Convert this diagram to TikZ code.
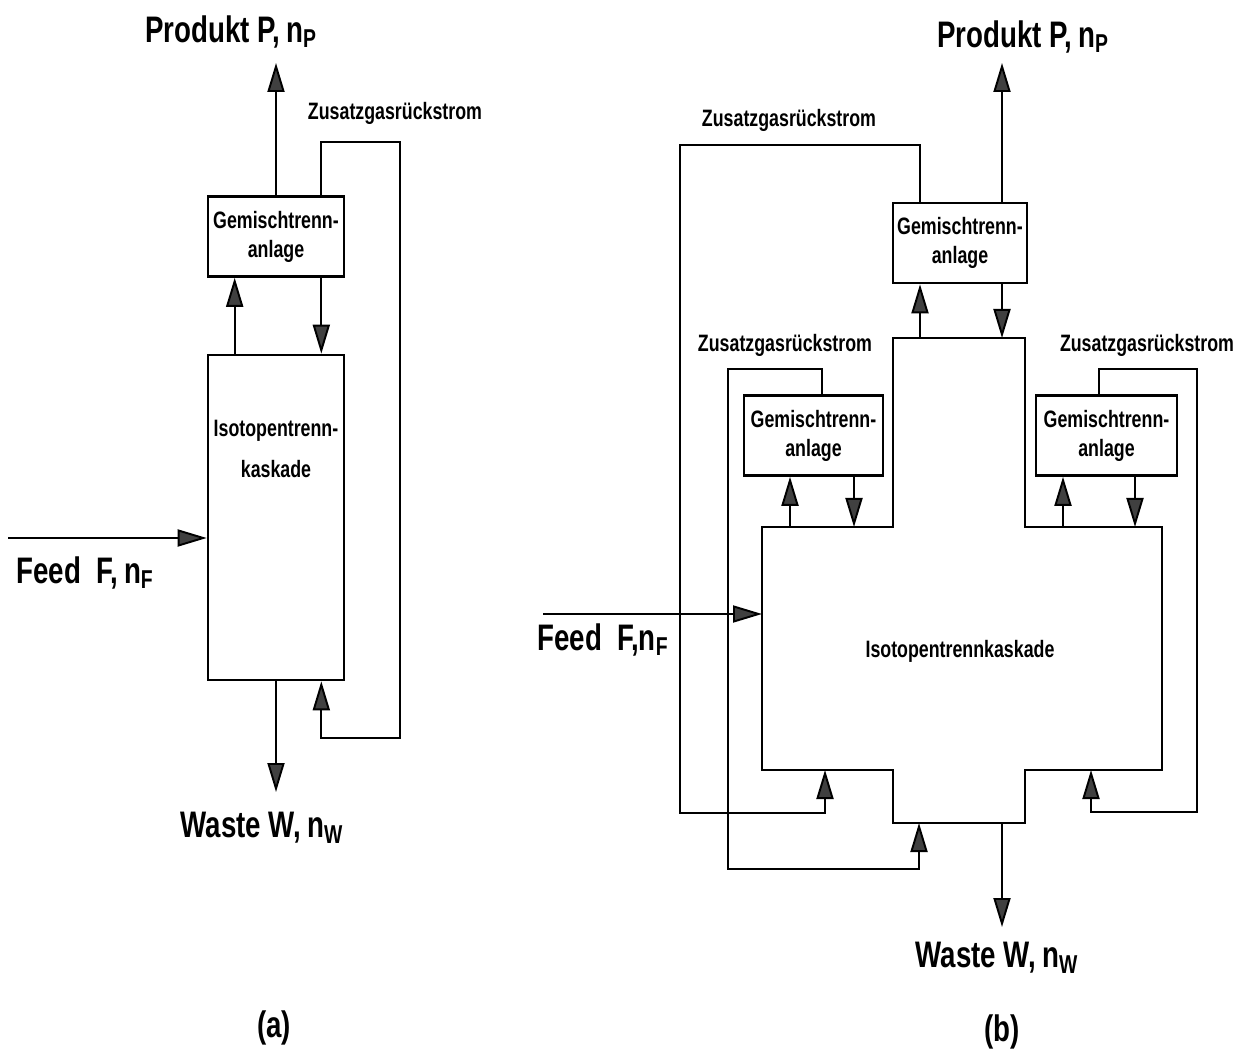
\documentclass[tikz,border=0pt]{standalone}
\usepackage{fontspec}
\newfontfamily\condfont[FakeStretch=0.75]{Liberation Sans}
\usepackage{tikz}
\usetikzlibrary{arrows.meta}
\tikzset{
  unitbox/.style={draw, line width=1.5pt, minimum width=2.72cm, minimum height=1.6cm, align=center, inner sep=1pt,
    font=\condfont\bfseries\fontsize{13.5}{16.5}\selectfont},
  flow/.style={line width=1.1pt, -{Triangle[length=0.58cm, width=0.34cm, fill=black!75]}},
  biglabel/.style={font=\condfont\bfseries\fontsize{21}{23}\selectfont},
  smalllabel/.style={font=\condfont\bfseries\fontsize{13.5}{16}\selectfont, align=center}
}

\begin{document}
\begin{tikzpicture}
  \fill[white] (0,0) rectangle (24.86,21.18);

  % (a) single cascade
  \node[unitbox] (gemA) at (5.52,16.45) {Gemischtrenn-\\anlage};
  \node[unitbox, minimum height=6.5cm] (cascA) at (5.52,10.83) {};
  \node[smalllabel, font=\condfont\bfseries\fontsize{13.5}{16.5}\selectfont] (cascAtxt) at (5.52,12.2) {Isotopentrenn-\\[7pt]kaskade};

  \node[biglabel] (prodA) at (4.62,20.54) {Produkt P,\,n\textsubscript{P}};
  \node[smalllabel] (retAlbl) at (7.9,18.92) {Zusatzgasrückstrom};
  \node[biglabel] (feedA) at (1.7,9.72) {Feed\ \ F,\,n\textsubscript{F}};
  \node[biglabel] (wasteA) at (5.24,4.62) {Waste W,\,n\textsubscript{W}};
  \node[biglabel] (capA) at (5.48,0.62) {(a)};

  \coordinate (prodAtip) at (5.52,19.92);
  \coordinate (wasteAtip) at (5.52,5.34);
  \coordinate (feedAstart) at (0.16,10.42);
  \coordinate (retAtop) at (8.0,18.34);
  \coordinate (retAbot) at (8.0,6.42);

  \draw[flow] (gemA.north) -- (prodAtip);
  \draw[flow] ([xshift=0.56cm]cascA.north west) -- ([xshift=0.56cm]gemA.south west);
  \draw[flow] ([xshift=-0.48cm]gemA.south east) -- ([xshift=-0.48cm]cascA.north east);
  \draw[flow] ([xshift=-0.48cm]gemA.north east) |- (retAtop) -- (retAbot) -| ([xshift=-0.48cm]cascA.south east);
  \draw[flow] (feedAstart) -- (feedAstart -| cascA.west);
  \draw[flow] (cascA.south) -- (wasteAtip);

  % (b) cascade with three separation units
  \node[unitbox, minimum width=2.68cm] (gemB) at (19.2,16.32) {Gemischtrenn-\\anlage};
  \node[unitbox, minimum width=2.78cm] (gemL) at (16.27,12.47) {Gemischtrenn-\\anlage};
  \node[unitbox, minimum width=2.82cm] (gemR) at (22.13,12.47) {Gemischtrenn-\\anlage};

  \draw[line width=1.5pt] (17.86,14.42) -- (20.5,14.42) -- (20.5,10.64) -- (23.24,10.64) -- (23.24,5.78)
    -- (20.5,5.78) -- (20.5,4.72) -- (17.86,4.72) -- (17.86,5.78) -- (15.24,5.78) -- (15.24,10.64)
    -- (17.86,10.64) -- cycle;

  \node[biglabel] (prodB) at (20.46,20.44) {Produkt P,\,n\textsubscript{P}};
  \node[smalllabel] (retBlbl) at (15.78,18.78) {Zusatzgasrückstrom};
  \node[smalllabel] (retLlbl) at (15.7,14.28) {Zusatzgasrückstrom};
  \node[smalllabel] (retRlbl) at (22.94,14.28) {Zusatzgasrückstrom};
  \node[biglabel] (feedB) at (12.06,8.38) {Feed\ \ F,n\textsubscript{F}};
  \node[smalllabel] (cascBtxt) at (19.2,8.16) {Isotopentrennkaskade};
  \node[biglabel] (wasteB) at (19.94,2.02) {Waste W,\,n\textsubscript{W}};
  \node[biglabel] (capB) at (20.04,0.54) {(b)};

  \coordinate (nk1) at (18.4,14.42);
  \coordinate (nk2) at (20.04,14.42);
  \coordinate (sL1) at (15.8,10.64);
  \coordinate (sL2) at (17.08,10.64);
  \coordinate (sR1) at (21.26,10.64);
  \coordinate (sR2) at (22.7,10.64);
  \coordinate (fL1) at (16.5,5.78);
  \coordinate (fR1) at (21.82,5.78);
  \coordinate (bn1) at (18.38,4.72);
  \coordinate (bn2) at (20.04,4.72);
  \coordinate (kL) at (15.24,8.9);
  \coordinate (feedBstart) at (10.86,8.9);
  \coordinate (prodBtip) at (20.04,19.92);
  \coordinate (wasteBtip) at (20.04,2.64);
  \coordinate (retBtl) at (13.6,18.28);
  \coordinate (retBbl) at (13.6,4.92);
  \coordinate (retLtl) at (14.56,13.8);
  \coordinate (retLbl) at (14.56,3.8);
  \coordinate (retRtr) at (23.94,13.8);
  \coordinate (retRbr) at (23.94,4.94);

  \draw[flow] (nk2 |- gemB.north) -- (prodBtip);
  \draw[flow] (nk1) -- (nk1 |- gemB.south);
  \draw[flow] (nk2 |- gemB.south) -- (nk2);
  \draw[flow] (sL1) -- (sL1 |- gemL.south);
  \draw[flow] (sL2 |- gemL.south) -- (sL2);
  \draw[flow] (sR1) -- (sR1 |- gemR.south);
  \draw[flow] (sR2 |- gemR.south) -- (sR2);
  \draw[flow] (nk1 |- gemB.north) |- (retBtl) -- (retBbl) -| (fL1);
  \draw[flow] ([xshift=0.17cm]gemL.north) |- (retLtl) -- (retLbl) -| (bn1);
  \draw[flow] ([xshift=-0.15cm]gemR.north) |- (retRtr) -- (retRbr) -| (fR1);
  \draw[flow] (feedBstart) -- (kL);
  \draw[flow] (bn2) -- (wasteBtip);
\end{tikzpicture}
\end{document}
